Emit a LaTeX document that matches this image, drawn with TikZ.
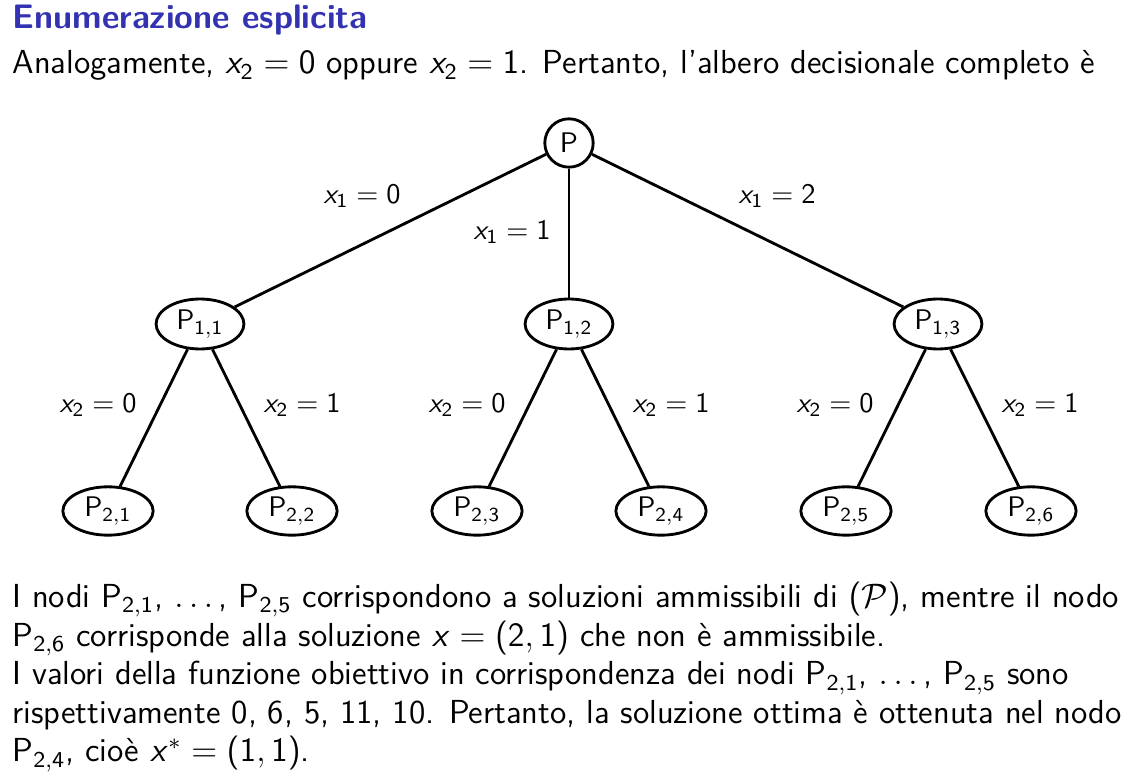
\documentclass[tikz,border=0pt]{standalone}
\usepackage{amsmath, amssymb}
\renewcommand{\familydefault}{\sfdefault}
\usetikzlibrary{positioning,shapes.geometric}
% sans digits and slanted sans x in math, as on the slide
\SetSymbolFont{operators}{normal}{OT1}{cmss}{m}{n}
\DeclareSymbolFont{sfslanted}{OT1}{cmss}{m}{sl}
\DeclareMathSymbol{x}{\mathalpha}{sfslanted}{`x}
\definecolor{titleblue}{rgb}{0.2,0.2,0.7}
\tikzset{
  rootnode/.style={draw, circle, line width=1pt, minimum size=0.6cm, inner sep=0pt},
  midnode/.style={draw, ellipse, line width=1pt, minimum width=1.09cm, minimum height=0.62cm, inner sep=1pt},
  leafnode/.style={draw, ellipse, line width=1pt, minimum width=1.12cm, minimum height=0.6cm, inner sep=1pt},
  branch/.style={line width=1pt},
  branchlabel/.style={inner sep=1pt},
  slidetext/.style={inner sep=0pt, align=left, font=\fontsize{11.75}{13.6}\selectfont}
}
\begin{document}
\begin{tikzpicture}[x=0.0124cm, y=-0.0124cm, every node/.style={font=\fontsize{10}{12}\selectfont}]
  \useasboundingbox (0,0) rectangle (1134,779);
  % header
  \node[slidetext, anchor=base west, font=\fontsize{12}{14.5}\selectfont\bfseries, text=titleblue] (title) at (12,29) {Enumerazione esplicita};
  \node[slidetext, anchor=base west] (intro) at (12,74) {Analogamente, $x_2 = 0$ oppure $x_2 = 1$. Pertanto, l'albero decisionale completo \`e};
  % tree
  \node[rootnode] (p) at (569,143) {P};
  \node[midnode] (p11) at (200,324) {P$_{1,1}$};
  \node[midnode] (p12) at (569,324) {P$_{1,2}$};
  \node[midnode] (p13) at (938,324) {P$_{1,3}$};
  \node[leafnode] (p21) at (108,511) {P$_{2,1}$};
  \node[leafnode] (p22) at (292,511) {P$_{2,2}$};
  \node[leafnode] (p23) at (477,511) {P$_{2,3}$};
  \node[leafnode] (p24) at (661,511) {P$_{2,4}$};
  \node[leafnode] (p25) at (846,511) {P$_{2,5}$};
  \node[leafnode] (p26) at (1031,511) {P$_{2,6}$};
  \draw[branch] (p) -- (p11);
  \draw[branch] (p) -- (p12);
  \draw[branch] (p) -- (p13);
  \draw[branch] (p11) -- (p21);
  \draw[branch] (p11) -- (p22);
  \draw[branch] (p12) -- (p23);
  \draw[branch] (p12) -- (p24);
  \draw[branch] (p13) -- (p25);
  \draw[branch] (p13) -- (p26);
  \node[branchlabel] (l10) at (362,196) {$x_1 = 0$};
  \node[branchlabel] (l11) at (512,232) {$x_1 = 1$};
  \node[branchlabel] (l12) at (777,196) {$x_1 = 2$};
  \node[branchlabel] (l20) at (98,405) {$x_2 = 0$};
  \node[branchlabel] (l21) at (302,405) {$x_2 = 1$};
  \node[branchlabel] (l22) at (467,405) {$x_2 = 0$};
  \node[branchlabel] (l23) at (671,405) {$x_2 = 1$};
  \node[branchlabel] (l24) at (835,405) {$x_2 = 0$};
  \node[branchlabel] (l25) at (1040,405) {$x_2 = 1$};
  % closing remarks
  \node[slidetext, anchor=base west] (remarks) at (12,762) {I nodi P$_{2,1}$, $\dots$, P$_{2,5}$ corrispondono a soluzioni ammissibili di $(\mathcal{P})$, mentre il nodo\\
    P$_{2,6}$ corrisponde alla soluzione $x = (2,1)$ che non \`e ammissibile.\\
    I valori della funzione obiettivo in corrispondenza dei nodi P$_{2,1}$, $\dots$, P$_{2,5}$ sono\\
    rispettivamente 0, 6, 5, 11, 10. Pertanto, la soluzione ottima \`e ottenuta nel nodo\\
    P$_{2,4}$, cio\`e $x^* = (1,1)$.};
\end{tikzpicture}
\end{document}
